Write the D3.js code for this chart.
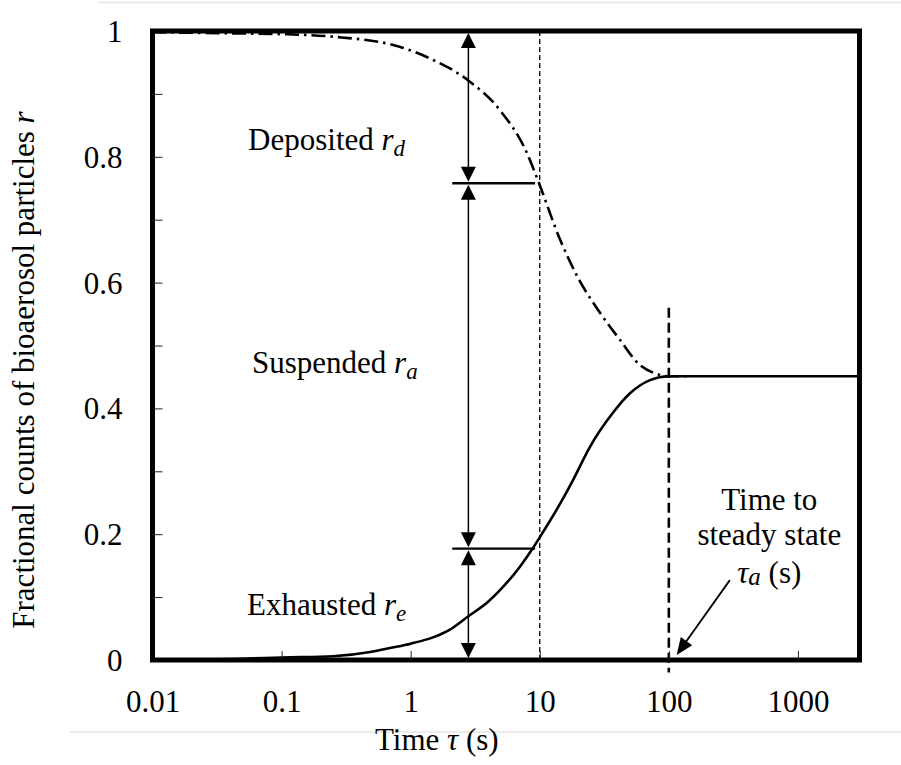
<!DOCTYPE html>
<html>
<head>
<meta charset="utf-8">
<script src="https://cdn.jsdelivr.net/npm/d3@7"></script>
<style>
  html, body { margin: 0; padding: 0; background: #fff; }
  svg { display: block; }
</style>
</head>
<body>
<div id="chart"></div>
<script>
// ---------------- DATA ----------------
// Exhausted fraction r_e (solid line)
const tauExhausted = [0.02, 0.05, 0.1, 0.25, 0.5, 0.69, 1, 1.49, 2, 2.73, 4, 4.92, 7, 8.86, 10, 14.9, 18.1, 24.5, 36.9, 50, 71.5, 100, 150, 3000];
const rExhausted   = [0.001, 0.002, 0.004, 0.006, 0.013, 0.019, 0.026, 0.036, 0.048, 0.068, 0.093, 0.111, 0.148, 0.178, 0.195, 0.254, 0.286, 0.339, 0.393, 0.424, 0.445, 0.451, 0.451, 0.451];
// Exhausted + suspended = 1 - r_d (dash-dot line)
const tauRemaining = [0.01, 0.05, 0.1, 0.25, 0.82, 1.49, 2.77, 4.92, 7.96, 9.7, 14.4, 20, 29.3, 41.8, 59.7, 80, 100, 150];
const rRemaining   = [0.998, 0.996, 0.995, 0.991, 0.975, 0.954, 0.922, 0.874, 0.806, 0.762, 0.668, 0.606, 0.552, 0.509, 0.469, 0.455, 0.451, 0.451];

const xTickValues = [0.01, 0.1, 1, 10, 100, 1000];
const xTickLabels = ["0.01", "0.1", "1", "10", "100", "1000"];
const yTickValues = [0, 0.2, 0.4, 0.6, 0.8, 1];
const yTickLabels = ["0", "0.2", "0.4", "0.6", "0.8", "1"];
const yMinorTicks = [0.1, 0.2, 0.3, 0.4, 0.5, 0.6, 0.7, 0.8, 0.9];

// Markers / annotations (data coordinates)
const arrowTau = 2.8;                       // vertical double arrows
const arrowLevels = [1, 0.758, 0.177, 0];   // boundaries between regions
const splitLines = [{ r: 0.758, t0: 2.1, t1: 9.2 }, { r: 0.177, t0: 2.1, t1: 9.2 }];
const tauRef = 10;                          // thin dashed line
const tauSteady = 100;                      // thick dashed line
const steadyRange = [0.56, -0.02];
const steadyArrow = { from: [297, 0.127], to: [115, 0.008] };

const regionLabels = [
  { text: "Deposited ", sub: "d", tau: 0.055, r: 0.811 },
  { text: "Suspended ", sub: "a", tau: 0.059, r: 0.456 },
  { text: "Exhausted ", sub: "e", tau: 0.054, r: 0.0715 }
];
const steadyLabel = { lines: ["Time to", "steady state"], tau: 600, r: [0.2385, 0.183, 0.122] };

// ---------------- LAYOUT ----------------
const W = 901, H = 765;
const mLeft = 152.5, mRight = 859.5, mTop = 31, mBottom = 660;
const FONT = "'Liberation Serif'";

const svg = d3.select("#chart").append("svg").attr("width", W).attr("height", H);

const x = d3.scaleLog().domain([0.01, 3000]).range([mLeft, mRight]);
const y = d3.scaleLinear().domain([0, 1]).range([mBottom, mTop]);

// faint page rules
svg.append("line").attr("x1", 98).attr("x2", W).attr("y1", 2.5).attr("y2", 2.5)
  .attr("stroke", "#e4e4e4").attr("stroke-width", 1.5);
svg.append("line").attr("x1", 70).attr("x2", W).attr("y1", 732).attr("y2", 732)
  .attr("stroke", "#e4e4e4").attr("stroke-width", 1.5);

const line = d3.line().x(d => x(d[0])).y(d => y(d[1])).curve(d3.curveMonotoneX);

// dash-dot curve
svg.append("path")
  .attr("d", line(tauRemaining.map((t, i) => [t, rRemaining[i]])))
  .attr("fill", "none").attr("stroke", "#000").attr("stroke-width", 2.6)
  .attr("stroke-dasharray", "14,5,2.5,5");

// solid curve
svg.append("path")
  .attr("d", line(tauExhausted.map((t, i) => [t, rExhausted[i]])))
  .attr("fill", "none").attr("stroke", "#000").attr("stroke-width", 2.6);

// thin dashed vertical at tau = 10
svg.append("line")
  .attr("x1", x(tauRef)).attr("x2", x(tauRef)).attr("y1", y(1)).attr("y2", y(0))
  .attr("stroke", "#000").attr("stroke-width", 1.3).attr("stroke-dasharray", "5,3");

// thick dashed vertical at tau = 100
svg.append("line")
  .attr("x1", x(tauSteady)).attr("x2", x(tauSteady))
  .attr("y1", y(steadyRange[0])).attr("y2", y(steadyRange[1]))
  .attr("stroke", "#000").attr("stroke-width", 2.6).attr("stroke-dasharray", "10,5");

// horizontal split lines
svg.selectAll(".split").data(splitLines).enter().append("line")
  .attr("x1", d => x(d.t0)).attr("x2", d => x(d.t1))
  .attr("y1", d => y(d.r)).attr("y2", d => y(d.r))
  .attr("stroke", "#000").attr("stroke-width", 2.4);

// vertical double-headed arrows
const ax = x(arrowTau);
const headLen = 15, headHalf = 7.5;
function head(xTip, yTip, dirX, dirY, len, half) {
  const bx = xTip - dirX * len, by = yTip - dirY * len;
  const px = -dirY * half, py = dirX * half;
  return `M${xTip},${yTip}L${bx + px},${by + py}L${bx - px},${by - py}Z`;
}
for (let i = 0; i < arrowLevels.length - 1; i++) {
  const yA = y(arrowLevels[i]) + (i === 0 ? 2 : 1.5);
  const yB = y(arrowLevels[i + 1]) - (i === arrowLevels.length - 2 ? 2 : 1.5);
  svg.append("line").attr("x1", ax).attr("x2", ax).attr("y1", yA + 5).attr("y2", yB - 5)
    .attr("stroke", "#000").attr("stroke-width", 1.5);
  svg.append("path").attr("d", head(ax, yA, 0, -1, headLen, headHalf)).attr("fill", "#000");
  svg.append("path").attr("d", head(ax, yB, 0, 1, headLen, headHalf)).attr("fill", "#000");
}

// steady-state annotation arrow
{
  const x0 = x(steadyArrow.from[0]), y0 = y(steadyArrow.from[1]);
  const x1 = x(steadyArrow.to[0]), y1 = y(steadyArrow.to[1]);
  const L = Math.hypot(x1 - x0, y1 - y0), ux = (x1 - x0) / L, uy = (y1 - y0) / L;
  svg.append("line").attr("x1", x0).attr("y1", y0)
    .attr("x2", x1 - ux * 10).attr("y2", y1 - uy * 10)
    .attr("stroke", "#000").attr("stroke-width", 1.8);
  svg.append("path").attr("d", head(x1, y1, ux, uy, 17, 7)).attr("fill", "#000");
}

// frame
svg.append("rect").attr("x", mLeft).attr("y", mTop)
  .attr("width", mRight - mLeft).attr("height", mBottom - mTop)
  .attr("fill", "none").attr("stroke", "#000").attr("stroke-width", 5);

// inner ticks on y axis
svg.append("g").attr("transform", `translate(${mLeft},0)`)
  .call(d3.axisRight(y).tickValues(yMinorTicks).tickSize(10).tickFormat(""))
  .call(g => g.select(".domain").remove())
  .call(g => g.selectAll("line").attr("stroke", "#222").attr("stroke-width", 1));

// inner ticks on x axis
svg.append("g").attr("transform", `translate(0,${mBottom})`)
  .call(d3.axisTop(x).tickValues(xTickValues.slice(1)).tickSize(9).tickFormat(""))
  .call(g => g.select(".domain").remove())
  .call(g => g.selectAll("line").attr("stroke", "#222").attr("stroke-width", 1));

// y tick labels
svg.append("g").attr("transform", `translate(${mLeft},0)`)
  .call(d3.axisLeft(y).tickValues(yTickValues).tickSize(0).tickPadding(30)
    .tickFormat((d, i) => yTickLabels[i]))
  .call(g => g.select(".domain").remove())
  .call(g => g.selectAll("text").attr("dy", "0.34em"));

// x tick labels
svg.append("g").attr("transform", `translate(0,${mBottom})`)
  .call(d3.axisBottom(x).tickValues(xTickValues).tickSize(0).tickPadding(30)
    .tickFormat((d, i) => xTickLabels[i]))
  .call(g => g.select(".domain").remove())
  .call(g => g.selectAll("text").attr("dy", "0.71em").attr("y", 30));

// axis titles
const xt = svg.append("text").attr("x", 375).attr("y", 750);
xt.append("tspan").text("Time ");
xt.append("tspan").style("font-style", "italic").text("τ");
xt.append("tspan").text(" (s)");

const yt = svg.append("text").attr("transform", "translate(34,370) rotate(-90)")
  .attr("text-anchor", "middle");
yt.append("tspan").text("Fractional counts of bioaerosol particles ");
yt.append("tspan").style("font-style", "italic").text("r");

// region labels
regionLabels.forEach(d => {
  const t = svg.append("text").attr("x", x(d.tau)).attr("y", y(d.r));
  t.append("tspan").text(d.text);
  t.append("tspan").style("font-style", "italic").text("r");
  t.append("tspan").style("font-style", "italic").style("font-size", "23px").attr("dy", 6).text(d.sub);
});

// steady-state label
steadyLabel.lines.forEach((s, i) => {
  svg.append("text").attr("x", x(steadyLabel.tau)).attr("y", y(steadyLabel.r[i]))
    .attr("text-anchor", "middle").text(s);
});
{
  const t = svg.append("text").attr("x", x(steadyLabel.tau)).attr("y", y(steadyLabel.r[2]))
    .attr("text-anchor", "middle");
  t.append("tspan").style("font-style", "italic").text("τ");
  t.append("tspan").style("font-style", "italic").style("font-size", "25px").attr("dy", 2).text("a");
  t.append("tspan").attr("dy", -2).text(" (s)");
}

// common text styling
svg.selectAll("g").attr("font-family", null).attr("font-size", null);
svg.selectAll("text").style("font-family", FONT).attr("fill", "#000");
svg.selectAll("text").filter(function () { return !this.style.fontSize; }).style("font-size", "31px");
svg.selectAll("tspan").style("font-family", FONT);
</script>
</body>
</html>
